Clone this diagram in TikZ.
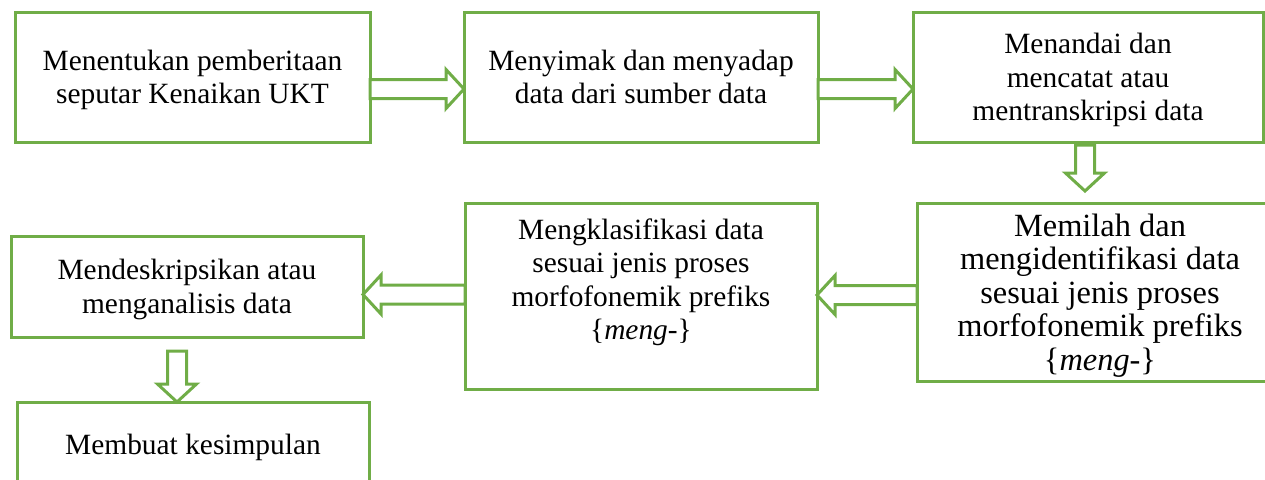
\documentclass[tikz,border=0pt]{standalone}
\usepackage{fontspec}
\setmainfont{Liberation Serif}
\usepackage{xcolor}
\usetikzlibrary{positioning,calc}

\definecolor{stepgreen}{HTML}{70AD47}

% hollow block arrow from #1 to the tip #2
\newcommand{\hollowarrow}[2]{%
  \coordinate (ha) at (#1);
  \coordinate (hb) at (#2);
  \coordinate (hc) at ($(hb)!9pt!(ha)$);
  \draw[hollow] ($(ha)!4.75pt!90:(hb)$) -- ($(hc)!4.75pt!90:(hb)$)
    -- ($(hc)!9.75pt!90:(hb)$) -- (hb) -- ($(hc)!9.75pt!-90:(hb)$)
    -- ($(hc)!4.75pt!-90:(hb)$) -- ($(ha)!4.75pt!-90:(hb)$) -- cycle;
}

\begin{document}
\begin{tikzpicture}[
  x=0.5pt, y=-0.5pt,
  stepbox/.style={rectangle, draw=stepgreen, line width=1.5pt, align=center,
    inner sep=2pt, outer sep=0pt, text depth=0pt,
    font=\fontsize{14.7}{16.75}\selectfont},
  hollow/.style={draw=stepgreen, line width=1.5pt, fill=white}
]
\clip (0,0) rectangle (1265,479);

%Nodes
\node[stepbox, minimum width=177.5pt, minimum height=65pt] (b1) at (192.5,77)
  {Menentukan pemberitaan\\seputar Kenaikan UKT};
\node[stepbox, minimum width=177pt, minimum height=65pt, right=47pt of b1] (b2)
  {Menyimak dan menyadap\\data dari sumber data};
\node[stepbox, minimum width=175pt, minimum height=65pt, right=47.5pt of b2] (b3)
  {Menandai dan\\mencatat atau\\mentranskripsi data};
\node[stepbox, minimum width=183pt, minimum height=89pt, anchor=north west,
  font=\fontsize{16.2}{16.75}\selectfont] (b4) at (917,203)
  {Memilah dan\\mengidentifikasi data\\sesuai jenis proses\\morfofonemik prefiks\\\{\textit{meng}-\}};
\node[stepbox, minimum width=176pt, minimum height=93pt, below=30.5pt of b2] (b5)
  {Mengklasifikasi data\\sesuai jenis proses\\morfofonemik prefiks\\\{\textit{meng}-\}\\\mbox{}};
\node[stepbox, minimum width=176pt, minimum height=50.5pt] (b6) at (187,286.5)
  {Mendeskripsikan atau\\menganalisis data};
\node[stepbox, minimum width=176pt, minimum height=42pt] (b7) at (193,444)
  {Membuat kesimpulan};

%Arrows
\hollowarrow{[yshift=-6pt]b1.east}{b2.west |- ha}
\hollowarrow{[yshift=-6pt]b2.east}{b3.west |- ha}
\hollowarrow{[xshift=-1.5pt,yshift=-1.5pt]b3.south}{$(ha |- b4.north)+(0,-12)$}
\hollowarrow{[yshift=-1.5pt]b4.west}{b5.east |- ha}
\hollowarrow{[yshift=0.75pt]b5.west}{b6.east |- ha}
\hollowarrow{[xshift=-5pt,yshift=-7pt]b6.south}{ha |- b7.north}
\end{tikzpicture}
\end{document}
